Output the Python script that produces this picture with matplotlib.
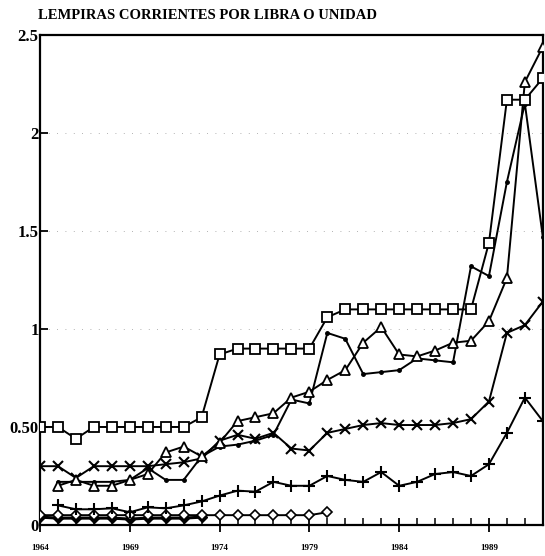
import numpy as np
import matplotlib
matplotlib.use("Agg")
from matplotlib import pyplot as plt
from matplotlib.ticker import FixedLocator, MultipleLocator

# years for each series
yrs_sq = list(range(1964, 1993))
squares = [0.50, 0.50, 0.44, 0.50, 0.50, 0.50, 0.50, 0.50, 0.50, 0.55,
           0.87, 0.90, 0.90, 0.90, 0.90, 0.90, 1.06, 1.10, 1.10, 1.10,
           1.10, 1.10, 1.10, 1.10, 1.10, 1.44, 2.17, 2.17, 2.28]

yrs_tri = list(range(1965, 1993))
triangles = [0.20, 0.23, 0.20, 0.20, 0.23, 0.26, 0.37, 0.40, 0.35, 0.42,
             0.53, 0.55, 0.57, 0.65, 0.68, 0.74, 0.79, 0.93, 1.01, 0.87,
             0.86, 0.89, 0.93, 0.94, 1.04, 1.26, 2.26, 2.44]

yrs_x = list(range(1964, 1993))
crosses = [0.30, 0.30, 0.24, 0.30, 0.30, 0.30, 0.30, 0.31, 0.32, 0.34,
           0.43, 0.46, 0.44, 0.47, 0.39, 0.38, 0.47, 0.49, 0.51, 0.52,
           0.51, 0.51, 0.51, 0.52, 0.54, 0.63, 0.98, 1.02, 1.14]

yrs_dot = list(range(1965, 1993))
dots = [0.22, 0.22, 0.22, 0.22, 0.23, 0.29, 0.23, 0.23, 0.35, 0.40,
        0.41, 0.43, 0.46, 0.64, 0.62, 0.98, 0.95, 0.77, 0.78, 0.79,
        0.85, 0.84, 0.83, 1.32, 1.27, 1.75, 2.15, 1.47]

yrs_plus = list(range(1965, 1993))
pluses = [0.10, 0.08, 0.08, 0.085, 0.065, 0.09, 0.085, 0.10, 0.12, 0.15,
          0.175, 0.17, 0.22, 0.20, 0.20, 0.25, 0.23, 0.22, 0.27, 0.20,
          0.22, 0.26, 0.27, 0.25, 0.31, 0.47, 0.65, 0.53]

yrs_dia = list(range(1964, 1981))
diamonds = [0.05, 0.05, 0.05, 0.05, 0.05, 0.05, 0.05, 0.05, 0.05, 0.05,
            0.05, 0.05, 0.05, 0.05, 0.05, 0.05, 0.065]

yrs_fdia = list(range(1964, 1974))
fdiamonds = [0.04, 0.035, 0.035, 0.035, 0.035, 0.03, 0.035, 0.035, 0.035, 0.04]

ytick_vals = [0, 0.5, 1, 1.5, 2, 2.5]
ytick_labels = ["0", "0.50", "1", "1.5", "2", "2.5"]
xtick_vals = [1964, 1969, 1974, 1979, 1984, 1989]

serif = "Liberation Serif"

fig = plt.figure(figsize=(5.45, 5.56), dpi=100)
ax = fig.add_axes([0.0734, 0.0558, 0.9226, 0.8812])

# faint dotted grid like the scan
for v in [1, 1.5, 2]:
    ax.axhline(v, color="0.6", lw=0.6, ls=(0, (1, 9)), zorder=0)

lw = 1.4
ax.plot(yrs_fdia, fdiamonds, color="k", lw=2.2, marker="D", ms=5,
        mfc="k", mec="k", zorder=2)
ax.plot(yrs_dia, diamonds, color="k", lw=lw, marker="D", ms=5,
        mfc="white", mec="k", mew=1.2, zorder=3)
ax.plot(yrs_plus, pluses, color="k", lw=lw, marker="+", ms=9, mew=1.5, zorder=3)
ax.plot(yrs_dot, dots, color="k", lw=lw, marker="o", ms=2.5, zorder=3)
ax.plot(yrs_x, crosses, color="k", lw=lw, marker="x", ms=7, mew=1.5, zorder=3)
ax.plot(yrs_tri, triangles, color="k", lw=lw, marker="^", ms=7.5,
        mfc="white", mec="k", mew=1.3, zorder=4)
ax.plot(yrs_sq, squares, color="k", lw=lw, marker="s", ms=7,
        mfc="white", mec="k", mew=1.3, zorder=5)

ax.set_xlim(1964, 1992)
ax.set_ylim(0, 2.5)
for s in ax.spines.values():
    s.set_linewidth(1.6)

ax.yaxis.set_major_locator(FixedLocator(ytick_vals))
ax.set_yticklabels(ytick_labels, fontfamily=serif, fontweight="bold", fontsize=12)
ax.tick_params(axis="y", direction="in", length=6, width=1.3, pad=1)

ax.xaxis.set_major_locator(FixedLocator(xtick_vals))
ax.xaxis.set_minor_locator(MultipleLocator(1))
ax.set_xticklabels([str(v) for v in xtick_vals], fontfamily=serif,
                   fontweight="bold", fontsize=6.5)
ax.tick_params(axis="x", which="major", direction="inout", length=10, width=1.3, pad=9)
ax.tick_params(axis="x", which="minor", direction="in", length=5, width=1.1)

fig.text(0.07, 0.965, "LEMPIRAS CORRIENTES POR LIBRA O UNIDAD", fontfamily=serif,
         fontweight="bold", fontsize=10.5)

fig.savefig("out.png", dpi=100)
